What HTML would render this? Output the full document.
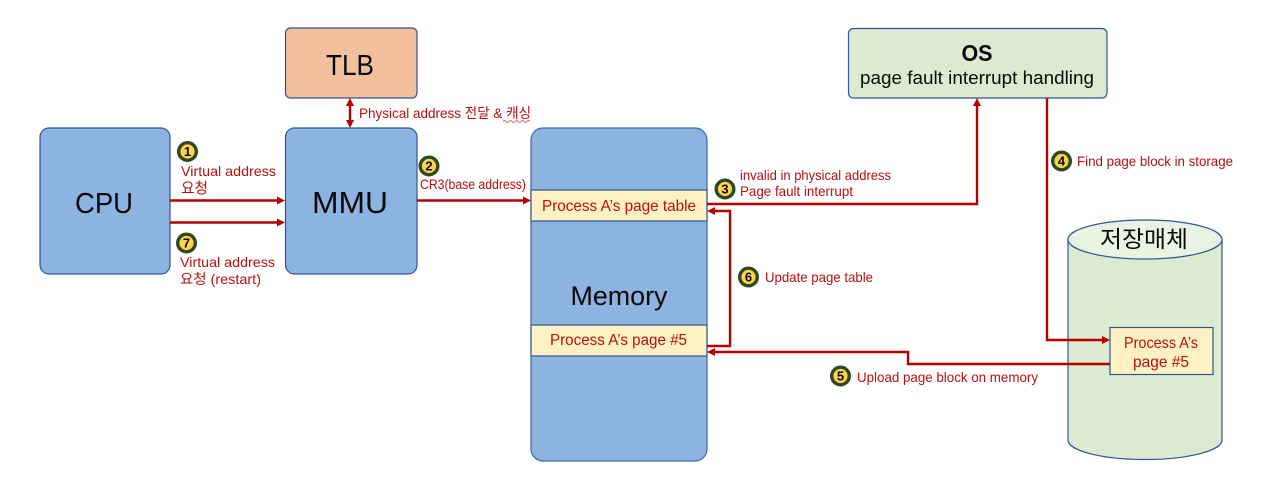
<!DOCTYPE html>
<html>
<head>
<meta charset="utf-8">
<style>
html,body{margin:0;padding:0;background:#fff;width:1280px;height:487px;overflow:hidden}
svg{display:block}
text{font-family:"DejaVu Sans","Noto Sans CJK KR",sans-serif}
.r{fill:#b81010;font-family:"Liberation Sans","Noto Sans CJK KR",sans-serif;font-size:14px}
.b{fill:#0a0a0a;text-anchor:middle;font-family:"Liberation Sans","Noto Sans CJK KR",sans-serif}
.n{fill:#0a0a0a;font-family:"Liberation Sans",sans-serif;font-size:13px;font-weight:bold;text-anchor:middle}
.l{fill:none;stroke:#b70000;stroke-width:2.4}
.a{fill:#b70000}
.c1{fill:#ffd34d;stroke:#2b4a1d;stroke-width:3.4}
</style>
</head>
<body>
<svg width="1280" height="487" viewBox="0 0 1280 487" xmlns="http://www.w3.org/2000/svg">
<rect width="1280" height="487" fill="#fff"/>

<!-- main boxes -->
<rect x="40" y="128" width="130" height="146" rx="9" fill="#8db3e0" stroke="#2f5597" stroke-width="1.2"/>
<rect x="285.500" y="128" width="131.500" height="146" rx="9" fill="#8db3e0" stroke="#2f5597" stroke-width="1.2"/>
<rect x="285.500" y="28" width="131.500" height="70" rx="5" fill="#f4bf9d" stroke="#2f5597" stroke-width="1.2"/>
<rect x="531" y="128" width="176" height="333" rx="12" fill="#8db3e0" stroke="#3b68a8" stroke-width="1.2"/>
<rect x="531" y="190" width="176" height="31" fill="#fff1c4" stroke="#2f5597" stroke-width="1.2"/>
<rect x="531" y="325" width="176" height="31" fill="#fff1c4" stroke="#2f5597" stroke-width="1.2"/>
<rect x="848.500" y="28.500" width="258.500" height="69.500" rx="5" fill="#dcebd0" stroke="#2f5597" stroke-width="1.2"/>

<!-- cylinder -->
<path d="M1068 239.500V440A77 19.500 0 0 0 1222 440V239.500Z" fill="#dcebd0" stroke="#2f5597" stroke-width="1.2"/>
<ellipse cx="1145" cy="239.500" rx="77" ry="19.500" fill="#e9f3e2" stroke="#2f5597" stroke-width="1.2"/>
<rect x="1110" y="327.500" width="103" height="47" fill="#fff1c4" stroke="#2f5597" stroke-width="1.2"/>

<!-- connectors -->
<path class="l" d="M170 200.500H279"/><path class="a" d="M285 200.500l-8-4v8z"/>
<path class="l" d="M170 222.500H279"/><path class="a" d="M285 222.500l-8-4v8z"/>
<path class="l" d="M417 200.500H525"/><path class="a" d="M531 200.500l-8-4v8z"/>
<path class="l" d="M350 103V123"/><path class="a" d="M350 98l-4 8h8z"/><path class="a" d="M350 128l-4-8h8z"/>
<path class="l" d="M707 204H977V104"/><path class="a" d="M977 98l-4 8h8z"/>
<path class="l" d="M1047 98V340H1104"/><path class="a" d="M1110 340l-8-4v8z"/>
<path class="l" d="M1110 364H908V352H713"/><path class="a" d="M707 352l8-4v8z"/>
<path class="l" d="M707 346H730V211H713"/><path class="a" d="M707 211l8-4v8z"/>

<!-- box labels -->
<text class="b" x="104" y="213" font-size="29" textLength="58" lengthAdjust="spacingAndGlyphs">CPU</text>
<text class="b" x="350" y="213" font-size="31" textLength="76" lengthAdjust="spacingAndGlyphs">MMU</text>
<text class="b" x="350" y="75" font-size="29" textLength="48" lengthAdjust="spacingAndGlyphs">TLB</text>
<text class="b" x="619" y="305" font-size="27" textLength="97" lengthAdjust="spacingAndGlyphs">Memory</text>
<text class="b" x="977" y="61" font-size="23" font-weight="bold" textLength="31" lengthAdjust="spacingAndGlyphs">OS</text>
<text class="b" x="977" y="84" font-size="18" textLength="234" lengthAdjust="spacingAndGlyphs">page fault interrupt handling</text>
<text class="b" x="1144" y="247" font-size="23" textLength="88" lengthAdjust="spacingAndGlyphs">저장매체</text>

<!-- row labels -->
<text class="r" x="542" y="211" style="font-size:16px" textLength="154" lengthAdjust="spacingAndGlyphs">Process A’s page table</text>
<text class="r" x="550" y="345" style="font-size:16px" textLength="137" lengthAdjust="spacingAndGlyphs">Process A’s page #5</text>
<text class="r" x="1124" y="348" style="font-size:16px" textLength="74" lengthAdjust="spacingAndGlyphs">Process A’s</text>
<text class="r" x="1133" y="367" style="font-size:16px" textLength="56" lengthAdjust="spacingAndGlyphs">page #5</text>

<!-- connector labels -->
<text class="r" x="181" y="176" textLength="95" lengthAdjust="spacingAndGlyphs">Virtual address</text>
<text class="r" x="181" y="193" style="font-size:15px" textLength="27" lengthAdjust="spacingAndGlyphs">요청</text>
<text class="r" x="180" y="267" textLength="95" lengthAdjust="spacingAndGlyphs">Virtual address</text>
<text class="r" x="180" y="284" textLength="81" lengthAdjust="spacingAndGlyphs">요청 (restart)</text>
<text class="r" x="359" y="118" textLength="172" lengthAdjust="spacingAndGlyphs">Physical address 전달 &amp; 캐싱</text>
<path d="M503 121.500q1.500-2 3 0t3 0t3 0t3 0t3 0t3 0t3 0t3 0t3 0" fill="none" stroke="#e04040" stroke-width="0.8"/>
<text class="r" x="420" y="189" textLength="106" lengthAdjust="spacingAndGlyphs">CR3(base address)</text>
<text class="r" x="740" y="180" textLength="151" lengthAdjust="spacingAndGlyphs">invalid in physical address</text>
<text class="r" x="740" y="196" textLength="113" lengthAdjust="spacingAndGlyphs">Page fault interrupt</text>
<text class="r" x="1077" y="166" textLength="156" lengthAdjust="spacingAndGlyphs">Find page block in storage</text>
<text class="r" x="857" y="382" textLength="181" lengthAdjust="spacingAndGlyphs">Upload page block on memory</text>
<text class="r" x="765" y="282" textLength="108" lengthAdjust="spacingAndGlyphs">Update page table</text>

<!-- number badges -->
<circle class="c1" cx="187.500" cy="151.500" r="8.800"/><text class="n" x="187.500" y="156">1</text>
<circle class="c1" cx="429" cy="166" r="8.800"/><text class="n" x="429" y="170.500">2</text>
<circle class="c1" cx="725" cy="189" r="8.800"/><text class="n" x="725" y="193.500">3</text>
<circle class="c1" cx="1061.500" cy="161" r="8.800"/><text class="n" x="1061.500" y="165.500">4</text>
<circle class="c1" cx="840.500" cy="376" r="8.800"/><text class="n" x="840.500" y="380.500">5</text>
<circle class="c1" cx="748.500" cy="277" r="8.800"/><text class="n" x="748.500" y="281.500">6</text>
<circle class="c1" cx="186.500" cy="243" r="8.800"/><text class="n" x="186.500" y="247.500">7</text>
</svg>
</body>
</html>
